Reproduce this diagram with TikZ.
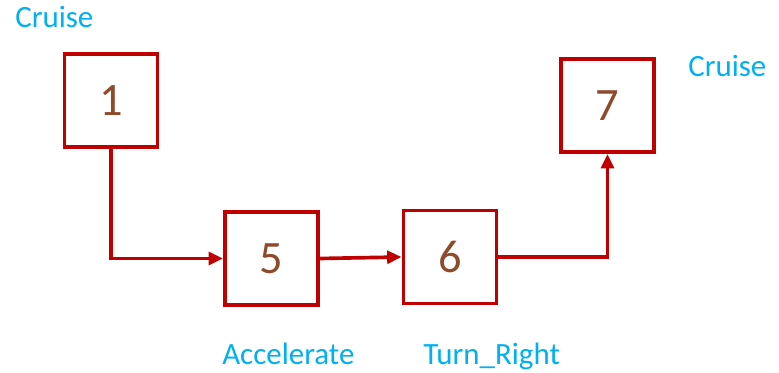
\documentclass[tikz,border=0pt]{standalone}
\usepackage{fontspec}
\setmainfont{Carlito}
\usetikzlibrary{arrows.meta}
\definecolor{boxred}{HTML}{C00000}
\definecolor{numbrown}{HTML}{8E4A2A}
\definecolor{labblue}{HTML}{00B0F0}
\begin{document}
\begin{tikzpicture}[x = 0.025cm, y = -0.025cm,
  state/.style = {draw = boxred, line width = 2.6pt, minimum size = 2.33cm, inner sep = 0pt,
    text = numbrown, font = \fontsize{33}{33}\selectfont},
  act/.style = {text = labblue, font = \fontsize{22}{22}\selectfont, inner sep = 0pt},
  link/.style = {draw = boxred, line width = 2.6pt, -{Triangle[length = 0.36cm, width = 0.32cm]}}]
\useasboundingbox (0,0) rectangle (779,373);
% states
\node[state](s1)at(111,100.5){1};
\node[state](s5)at(271.5,258.5){5};
\node[state](s6)at(450,257){6};
\node[state](s7)at(607.5,105.5){7};
% labels
\node[act, anchor = base west](l1)at(15,28){Cruise};
\node[act, anchor = base west](l7)at(688,77){Cruise};
\node[act, anchor = base west](l5)at(222,365){Accelerate};
\node[act, anchor = base west](l6)at(423,365){Turn\_Right};
% transitions
\path[link](s1.south)|-(s5.west);
\path[link](s5.east)--(s6.west);
\path[link](s6.east)-|(s7.south);
\end{tikzpicture}
\end{document}
